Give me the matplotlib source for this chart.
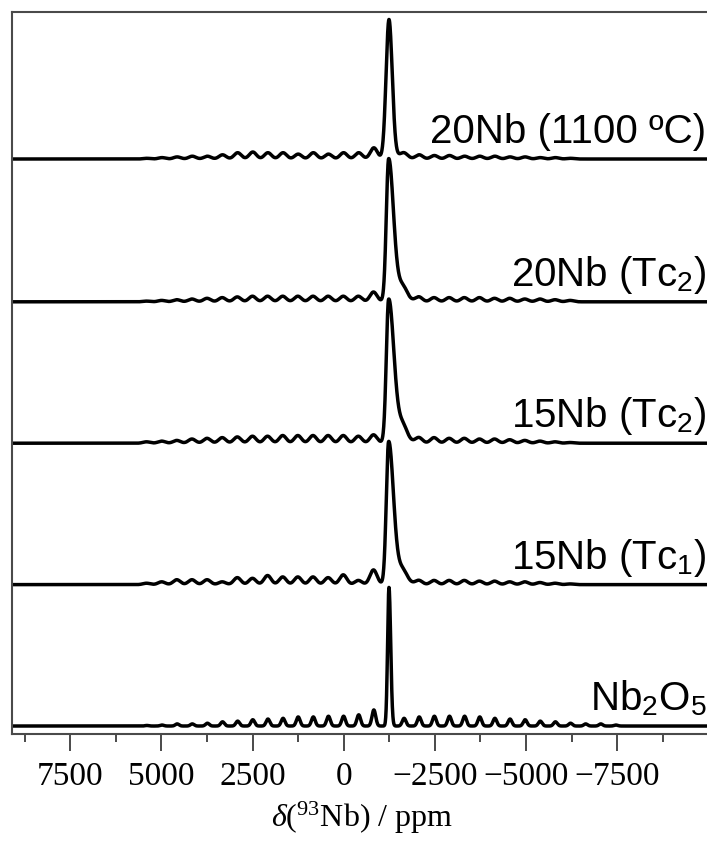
import matplotlib
matplotlib.use("Agg")
import matplotlib.pyplot as plt
import numpy as np

plt.rcParams['mathtext.fontset'] = 'custom'
plt.rcParams['mathtext.rm'] = 'Liberation Serif'
plt.rcParams['mathtext.it'] = 'Liberation Serif:italic'
plt.rcParams['mathtext.sf'] = 'Liberation Sans'

# espectros, de baixo para cima
rotulos = ["Nb$_\\mathsf{2}$O$_\\mathsf{5}$",
           "15Nb (Tc$_\\mathsf{1}$)",
           "15Nb (Tc$_\\mathsf{2}$)",
           "20Nb (Tc$_\\mathsf{2}$)",
           "20Nb (1100 ºC)"]
deslocamento = [0.0, 1.01, 2.02, 3.03, 4.05]

# pico central (ppm) e meias larguras esquerda / direita (ppm)
centro = [-1240, -1230, -1230, -1230, -1240]
hw_esq = [45, 75, 75, 75, 95]
hw_dir = [55, 150, 160, 150, 105]
cauda = [0.0, 0.10, 0.12, 0.10, 0.02]
altura = [0.99, 0.99, 0.99, 0.99, 0.99]

# bandas laterais (% do pico central), k = 1, 2, ...
rotacao = 415  # espaçamento em ppm
bl_esq = [
    [11.5, 8, 7, 7, 6.5, 6.5, 5.5, 5, 4.5, 3.5, 3, 2, 1.5, 1.5, 0.7, 0.4],
    [10.5, 3, 7, 5, 5.5, 5.5, 5.5, 6.5, 4.5, 5, 2, 3.5, 3.5, 3.5, 2, 1],
    [6, 5, 5.5, 5.5, 5.5, 5.5, 5.5, 5, 5, 4.5, 4, 3.5, 3, 2, 1.5, 1],
    [7, 4, 4, 4, 4, 4, 4, 4, 4, 3.5, 3, 2.5, 2, 1.5, 1, 0.5],
    [8, 4.5, 4.5, 3.5, 4.5, 3.5, 4.5, 4.5, 5, 4.5, 3, 2, 2, 1.5, 1, 0.5],
]
bl_dir = [
    [5.5, 6.5, 7, 7, 7, 6.5, 5.5, 5, 4.5, 3.5, 3, 2, 1.5, 1.5, 0.7],
    [3, 3, 3, 3, 3, 2.5, 2.5, 2, 2, 1.5, 1, 0.5],
    [4, 4, 4, 3.5, 3.5, 3, 3, 2.5, 2, 1.5, 1, 0.5],
    [3.5, 3.5, 3, 3, 3, 3, 2.5, 2.5, 2, 2, 1.5, 1],
    [3, 3, 2.5, 2.5, 2, 2, 2, 1.5, 1.5, 1, 1, 0.5],
]
hw_bl = [60, 115, 115, 115, 115]

ppm = np.linspace(9200, -10200, 5000)


def gauss(x, c, hw):
    return np.exp(-np.log(2) * ((x - c) / hw) ** 2)


fig = plt.figure(figsize=(7.07, 8.45), dpi=100)
ax = fig.add_axes([12 / 707, 110 / 845, 700 / 707, 722 / 845])

for i in range(5):
    c = centro[i]
    y = np.where(ppm >= c, gauss(ppm, c, hw_esq[i]), gauss(ppm, c, hw_dir[i])) * altura[i]
    y = y + cauda[i] * gauss(ppm, c - 280, 220)
    for k, a in enumerate(bl_esq[i], start=1):
        y = y + a / 100 * gauss(ppm, c + k * rotacao, hw_bl[i])
    for k, a in enumerate(bl_dir[i], start=1):
        y = y + a / 100 * gauss(ppm, c - k * rotacao, hw_bl[i])
    ax.plot(ppm, y + deslocamento[i], color='black', lw=2.5)
    ax.text(-9950, deslocamento[i] + 0.12, rotulos[i], ha='right', va='baseline',
            fontsize=29, family='Liberation Sans')

ax.set_xlim(9100, -10100)
ax.set_ylim(-0.057, 5.1)
ax.set_yticks([])
ax.set_xticks([7500, 5000, 2500, 0, -2500, -5000, -7500])
ax.set_xticks(np.arange(-8750, 9000, 1250), minor=True)
for s in ax.spines.values():
    s.set_linewidth(1.5)
    s.set_color('#4a4a4a')
ax.spines['right'].set_visible(False)
ax.tick_params(axis='x', which='major', length=12, width=1.4, color='#4a4a4a',
               labelsize=24, pad=7)
ax.tick_params(axis='x', which='minor', length=6, width=1.4, color='#4a4a4a')
for t in ax.get_xticklabels():
    t.set_family('Liberation Serif')

ax.set_xlabel(r"$\delta$($^{93}$Nb) / ppm", family='Liberation Serif', fontsize=23, labelpad=6)

fig.savefig("out.png", dpi=100)
